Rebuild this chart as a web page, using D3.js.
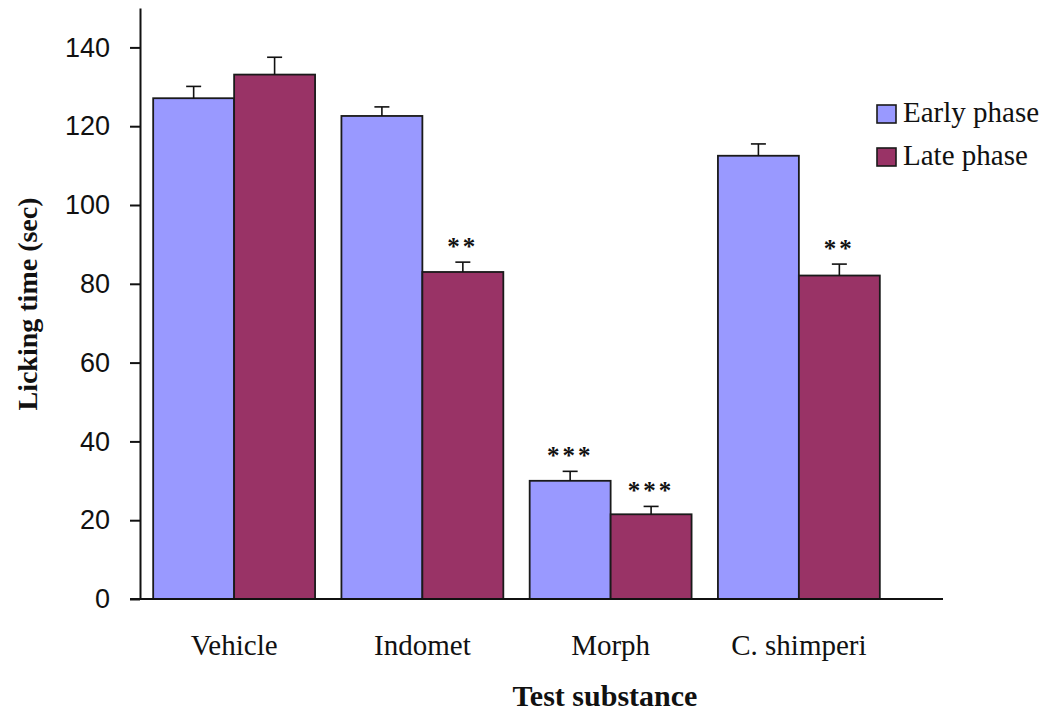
<!DOCTYPE html>
<html>
<head>
<meta charset="utf-8">
<script src="https://cdn.jsdelivr.net/npm/d3@7"></script>
<style>
  html, body { margin: 0; padding: 0; background: #fff; }
  svg { display: block; }
</style>
</head>
<body>
<svg id="chart" width="1046" height="713"></svg>
<script>
// Licking time per test substance, early vs late phase (mean ± SE)
const categories = ["Vehicle", "Indomet", "Morph", "C. shimperi"];
const seriesNames = ["Early phase", "Late phase"];
const earlyMeans = [127.1, 122.6, 30.0, 112.5];
const lateMeans  = [133.1, 83.0, 21.5, 82.1];
const earlyErr   = [3.0, 2.3, 2.4, 3.0];
const lateErr    = [4.4, 2.5, 2.0, 2.9];
const earlySig   = ["", "", "***", ""];
const lateSig    = ["", "**", "***", "**"];
const yTicks     = [0, 20, 40, 60, 80, 100, 120, 140];

const colors = { "Early phase": "#9999ff", "Late phase": "#993366" };
const serif = "'Liberation Serif', 'Times New Roman', serif";
const sans = "'Liberation Sans', Arial, sans-serif";

const rows = categories.map((c, i) => ({
  category: c,
  bars: [
    { series: seriesNames[0], value: earlyMeans[i], err: earlyErr[i], sig: earlySig[i] },
    { series: seriesNames[1], value: lateMeans[i],  err: lateErr[i],  sig: lateSig[i] }
  ]
}));

const svg = d3.select("#chart");
const plot = { left: 140, right: 893, top: 8, bottom: 599, axisEnd: 943 };

const y = d3.scaleLinear().domain([0, 150]).range([plot.bottom, plot.top]);
const x0 = d3.scaleBand().domain(categories).range([plot.left, plot.right])
  .paddingInner(0.14).paddingOuter(0.07);
const x1 = d3.scaleBand().domain(seriesNames).range([0, x0.bandwidth()]);

// Bars
const groups = svg.append("g").selectAll("g").data(rows).join("g")
  .attr("transform", d => `translate(${x0(d.category)},0)`);

groups.selectAll("rect").data(d => d.bars).join("rect")
  .attr("x", d => x1(d.series))
  .attr("y", d => y(d.value))
  .attr("width", x1.bandwidth())
  .attr("height", d => y(0) - y(d.value))
  .attr("fill", d => colors[d.series])
  .attr("stroke", "#1a1a1a")
  .attr("stroke-width", 1.8);

// Error bars (upper only)
const eb = groups.selectAll("g.err").data(d => d.bars).join("g").attr("class", "err")
  .attr("transform", d => `translate(${x1(d.series) + x1.bandwidth() / 2},0)`);
eb.append("line")
  .attr("x1", 0).attr("x2", 0)
  .attr("y1", d => y(d.value)).attr("y2", d => y(d.value + d.err))
  .attr("stroke", "#111").attr("stroke-width", 1.6);
eb.append("line")
  .attr("x1", -7.5).attr("x2", 7.5)
  .attr("y1", d => y(d.value + d.err)).attr("y2", d => y(d.value + d.err))
  .attr("stroke", "#111").attr("stroke-width", 1.6);

// Significance stars
eb.filter(d => d.sig).append("text")
  .attr("x", 0)
  .attr("y", d => y(d.value + d.err) - 19 + 12)
  .attr("text-anchor", "middle")
  .attr("font-family", serif)
  .attr("font-weight", "bold")
  .attr("font-size", 25)
  .attr("letter-spacing", 3)
  .attr("fill", "#111")
  .text(d => d.sig);

// Y axis
const yAxis = svg.append("g")
  .attr("transform", `translate(${plot.left},0)`)
  .call(d3.axisLeft(y).tickValues(yTicks).tickSize(10).tickSizeOuter(0).tickPadding(20));
yAxis.select(".domain").attr("stroke", "#111").attr("stroke-width", 2);
yAxis.selectAll(".tick line").attr("stroke", "#111").attr("stroke-width", 2);
yAxis.selectAll(".tick text")
  .attr("font-family", sans).attr("font-size", 27).attr("fill", "#111");

// X axis: baseline and category labels
svg.append("line")
  .attr("x1", plot.left - 10).attr("x2", plot.axisEnd)
  .attr("y1", y(0)).attr("y2", y(0))
  .attr("stroke", "#111").attr("stroke-width", 2);

const xAxis = svg.append("g")
  .attr("transform", `translate(0,${y(0)})`)
  .call(d3.axisBottom(x0).tickSize(0).tickPadding(0));
xAxis.select(".domain").remove();
xAxis.selectAll(".tick text")
  .attr("y", 56).attr("dy", 0)
  .attr("font-family", serif).attr("font-size", 29).attr("fill", "#111");

// Axis titles
svg.append("text")
  .attr("x", 605).attr("y", 706)
  .attr("text-anchor", "middle")
  .attr("font-family", serif).attr("font-weight", "bold").attr("font-size", 30)
  .attr("fill", "#111")
  .text("Test substance");

svg.append("text")
  .attr("transform", "translate(37,304) rotate(-90)")
  .attr("text-anchor", "middle")
  .attr("font-family", serif).attr("font-weight", "bold").attr("font-size", 28)
  .attr("fill", "#111")
  .text("Licking time (sec)");

// Legend
const legend = svg.append("g").attr("transform", "translate(877,105)");
const li = legend.selectAll("g").data(seriesNames).join("g")
  .attr("transform", (d, i) => `translate(0,${i * 43})`);
li.append("rect")
  .attr("width", 19).attr("height", 18)
  .attr("fill", d => colors[d])
  .attr("stroke", "#1a1a1a").attr("stroke-width", 1.6);
li.append("text")
  .attr("x", 26).attr("y", 17)
  .attr("font-family", serif).attr("font-size", 29).attr("fill", "#111")
  .text(d => d);
</script>
</body>
</html>
